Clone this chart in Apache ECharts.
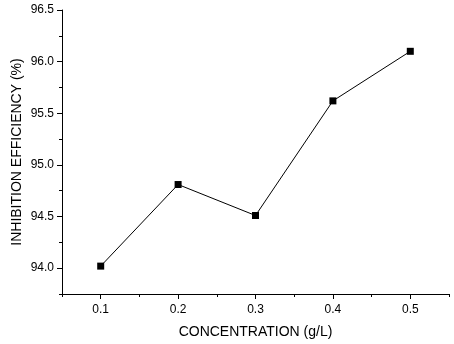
<!DOCTYPE html>
<html>
<head>
<meta charset="utf-8">
<script src="https://cdn.jsdelivr.net/npm/echarts@6/dist/echarts.min.js"></script>
<style>
  html, body { margin: 0; padding: 0; background: #fff; }
  #chart { width: 454px; height: 344px; }
</style>
</head>
<body>
<div id="chart"></div>
<script>
// data
const concentration = [0.1, 0.2, 0.3, 0.4, 0.5];
const efficiency = [94.02, 94.81, 94.51, 95.62, 96.10];
const xTicks = [0.1, 0.2, 0.3, 0.4, 0.5];
const yTicks = [94.0, 94.5, 95.0, 95.5, 96.0, 96.5];

const font = 'Liberation Sans, Arial, sans-serif';
const chart = echarts.init(document.getElementById('chart'));

const lineStyle = { color: '#000', width: 1 };

chart.setOption({
  animation: false,
  grid: { left: 62, right: 5, top: 10, bottom: 49 },
  xAxis: [
    {
      type: 'value', min: 0.05, max: 0.55, interval: 0.05,
      name: 'CONCENTRATION (g/L)', nameLocation: 'middle', nameGap: 31,
      nameMoveOverlap: false,
      nameTextStyle: { color: '#000', fontFamily: font, fontSize: 14 },
      axisLine: { lineStyle },
      axisTick: { length: 5, lineStyle, customValues: xTicks },
      axisLabel: {
        color: '#000', fontFamily: font, fontSize: 12, margin: 10,
        customValues: xTicks,
        formatter: v => v.toFixed(1)
      },
      splitLine: { show: false }
    },
    {
      // minor ticks
      type: 'value', position: 'bottom', min: 0.05, max: 0.55, interval: 0.05,
      axisLine: { show: false },
      axisTick: { length: 3, lineStyle },
      axisLabel: { show: false },
      splitLine: { show: false }
    }
  ],
  yAxis: [
    {
      type: 'value', min: 93.75, max: 96.5, interval: 0.25,
      name: 'INHIBITION EFFICIENCY (%)', nameLocation: 'middle', nameGap: 38,
      nameMoveOverlap: false,
      nameTextStyle: { color: '#000', fontFamily: font, fontSize: 14 },
      axisLine: { show: true, lineStyle },
      axisTick: { length: 5, lineStyle, customValues: yTicks },
      axisLabel: {
        color: '#000', fontFamily: font, fontSize: 12, margin: 8,
        customValues: yTicks,
        formatter: v => v.toFixed(1)
      },
      splitLine: { show: false }
    },
    {
      // minor ticks
      type: 'value', position: 'left', min: 93.75, max: 96.5, interval: 0.25,
      axisLine: { show: false },
      axisTick: { show: true, length: 3, lineStyle },
      axisLabel: { show: false },
      splitLine: { show: false }
    }
  ],
  series: [{
    type: 'line',
    data: concentration.map((c, i) => [c, efficiency[i]]),
    symbol: 'rect', symbolSize: 7,
    itemStyle: { color: '#000' },
    lineStyle: { color: '#000', width: 1 }
  }]
});
</script>
</body>
</html>
